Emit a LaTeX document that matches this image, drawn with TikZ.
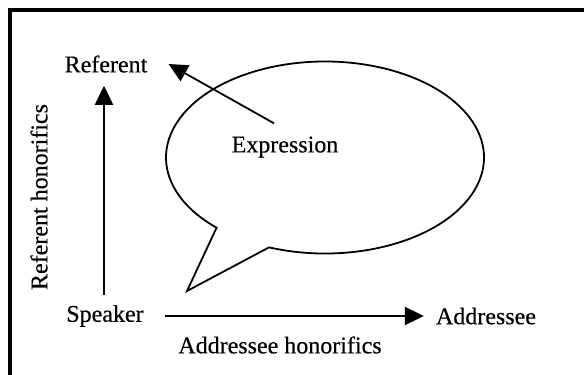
\documentclass[tikz,border=0pt]{standalone}
\usepackage{fontspec}
\setmainfont{Liberation Serif}[FakeBold=0.4]
\usetikzlibrary{arrows.meta,calc}
\begin{document}
\begin{tikzpicture}[x=1pt,y=-1pt,
  lbl/.style={inner sep=0pt,font=\fontsize{24}{28}\selectfont},
  arr/.style={line width=1.8pt,-{Triangle[length=19pt,width=18pt]}},
  bubble/.style={line width=1.8pt,line join=miter}]
\useasboundingbox (0,0) rectangle (584,375);
\fill[white] (0,0) rectangle (584,375);
% frame (only top and left edges are visible)
\draw[line width=4pt] (10,380) -- (10,10) -- (590,10);
% labels
\node[lbl] (ref) at (106,64) {Referent};
\node[lbl] (spk) at (105,316) {Speaker};
\node[lbl] (adr) at (486,316) {Addressee};
\node[lbl] (exp) at (285,147) {Expression};
\node[lbl] (adh) at (280,345) {Addressee honorifics};
\node[lbl,rotate=90] (refh) at (39,197) {Referent honorifics};
% speech bubble
\coordinate (c) at (325,157.5);
\coordinate (tip) at (187,291);
\draw[bubble] ($(c)+({159*cos(249.4)},{-96*sin(249.4)})$)
  arc[start angle=249.4,end angle=587,x radius=159,y radius=-96]
  -- (tip) -- cycle;
% arrows
\draw[arr,shorten <=10pt,shorten >=13pt] ([xshift=-1pt]spk.north) -- ([xshift=-1pt]spk.north |- ref.south);
\draw[arr,shorten <=21pt,shorten >=12pt] (spk.east) -- (adr.west);
\draw[arr] ([shift={(-11,-13)}]exp.north) -- ([xshift=21pt]ref.east);
\end{tikzpicture}
\end{document}
